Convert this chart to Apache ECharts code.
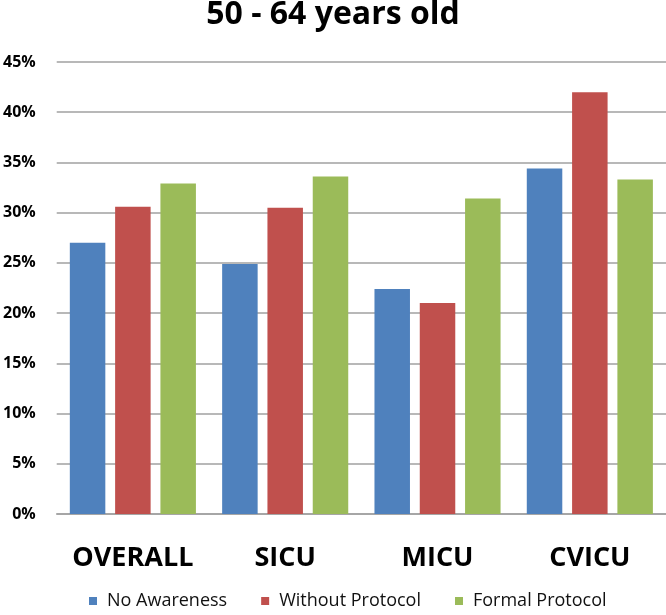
<!DOCTYPE html>
<html>
<head>
<meta charset="utf-8">
<script src="https://cdn.jsdelivr.net/npm/echarts@6/dist/echarts.min.js"></script>
<style>html,body{margin:0;padding:0;background:#fff}#c{width:666px;height:615px}</style>
</head>
<body>
<div id="c"></div>
<script>
const categories = ['OVERALL', 'SICU', 'MICU', 'CVICU'];
const noAwareness = [27.0, 24.9, 22.4, 34.4];
const withoutProtocol = [30.6, 30.5, 21.0, 42.0];
const formalProtocol = [32.9, 33.6, 31.4, 33.3];
const seriesNames = ['No Awareness', 'Without Protocol', 'Formal Protocol'];
const colors = ['#4F81BD', '#C0504D', '#9BBB59'];

const chart = echarts.init(document.getElementById('c'), null, {renderer: 'canvas'});
const font = 'Open Sans';
const mk = (name, data, i) => ({
  name, type: 'bar', data,
  barWidth: 35.5, barGap: '27.6%',
  itemStyle: {color: colors[i]}
});
chart.setOption({
  animation: false,
  color: colors,
  title: {
    text: '50 - 64 years old', left: 'center', top: -6,
    textStyle: {fontFamily: font, fontWeight: 'bold', fontSize: 32, color: '#000'}
  },
  legend: {
    bottom: 0, left: 84, itemWidth: 8, itemHeight: 8, itemGap: 34,
    icon: 'rect',
    textStyle: {fontFamily: font, fontSize: 18, color: '#111', padding: [0, 0, 0, 5]},
    data: seriesNames
  },
  grid: {left: 56, right: 0, top: 62, bottom: 101, containLabel: false},
  xAxis: {
    type: 'category', data: categories,
    axisLine: {show: true, lineStyle: {color: '#a0a0a0', width: 1.5}},
    axisTick: {show: false},
    axisLabel: {interval: 0, fontFamily: font, fontWeight: 'bold', fontSize: 27, color: '#000', margin: 31}
  },
  yAxis: {
    type: 'value', min: 0, max: 45, interval: 5,
    axisLine: {show: false}, axisTick: {show: false},
    splitLine: {lineStyle: {color: '#a0a0a0', width: 1.5}},
    axisLabel: {formatter: '{value}%', fontFamily: font, fontWeight: 'bold', fontSize: 16, color: '#000', margin: 21}
  },
  series: [
    mk(seriesNames[0], noAwareness, 0),
    mk(seriesNames[1], withoutProtocol, 1),
    mk(seriesNames[2], formalProtocol, 2)
  ]
});
</script>
</body>
</html>
